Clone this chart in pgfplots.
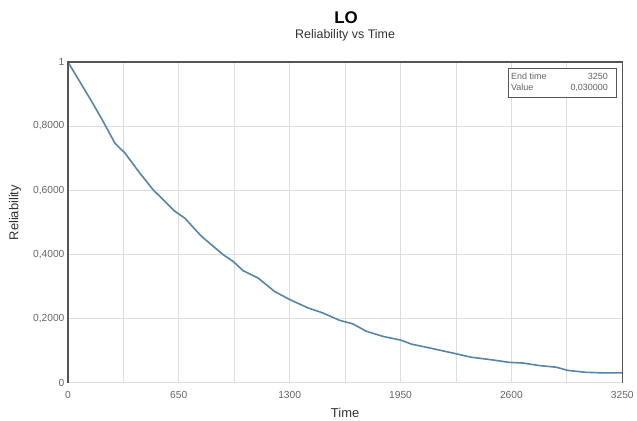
\documentclass[border=0pt]{standalone}
\usepackage{fontspec}
\setmainfont{Liberation Sans}
\usepackage{pgfplots}
\pgfplotsset{compat=1.18}
\definecolor{curve}{RGB}{84,134,168}
\definecolor{gridc}{RGB}{222,222,222}
\definecolor{tickc}{RGB}{100,100,100}
\definecolor{labc}{RGB}{50,50,50}
\definecolor{framec}{RGB}{85,85,85}
\begin{document}
\begin{tikzpicture}
\begin{axis}[
  scale only axis,
  width=555bp, height=321bp,
  xmin=0, xmax=3250, ymin=0, ymax=1,
  xtick={0,650,1300,1950,2600,3250},
  minor xtick={325,975,1625,2275,2925},
  ytick={0,0.2,0.4,0.6,0.8,1},
  yticklabels={0,{0,2000},{0,4000},{0,6000},{0,8000},1},
  xticklabel style={font=\fontsize{10.3}{12}\selectfont, text=tickc, yshift=-5bp},
  yticklabel style={font=\fontsize{10.3}{12}\selectfont, text=tickc},
  /pgf/number format/assume math mode=true,
  /pgf/number format/1000 sep={},
  xmajorgrids, xminorgrids, ymajorgrids,
  grid style={gridc, line width=0.8bp},
  minor grid style={gridc, line width=0.8bp},
  major tick length=0pt, minor tick length=0pt,
  axis line style={draw=none},
  clip=false,
]
\addplot[curve, line width=1.6bp] coordinates {
(0,1.000) (139,0.877) (207,0.814) (275,0.747) (334,0.716) (422,0.653)
(500,0.601) (627,0.534) (685,0.513) (783,0.456) (910,0.399) (968,0.378)
(1027,0.349) (1115,0.326) (1212,0.284) (1300,0.259) (1407,0.233)
(1495,0.217) (1593,0.194) (1671,0.183) (1749,0.160) (1847,0.144)
(1954,0.132) (2013,0.120) (2120,0.108) (2257,0.092) (2364,0.079)
(2471,0.072) (2588,0.063) (2666,0.061) (2764,0.053) (2862,0.048)
(2930,0.038) (3037,0.032) (3150,0.030) (3250,0.030)
};
\draw[gridc, line width=1bp] (rel axis cs:0,0) -- (rel axis cs:1,0);
\draw[framec, line width=1.2bp] (rel axis cs:0,0) -- (rel axis cs:0,1) -- (rel axis cs:1,1) -- (rel axis cs:1,0);
\node[draw=framec, line width=0.9bp, fill=white, anchor=north east, inner xsep=3bp, inner ysep=3bp,
  minimum width=106bp, minimum height=29bp,
  font=\fontsize{9}{11.5}\selectfont, text=tickc] at ([xshift=-5bp,yshift=-6bp]rel axis cs:1,1)
  {\begin{tabular}{@{}l@{\hspace{24bp}}r@{\hspace{6bp}}}End time & 3250\\ Value & 0,030000\end{tabular}};
\node[font=\bfseries\fontsize{17}{19}\selectfont] at ([xshift=1bp,yshift=44bp]rel axis cs:0.5,1) {LO};
\node[font=\fontsize{12.5}{14}\selectfont, text=labc] at ([yshift=27bp]rel axis cs:0.5,1) {Reliability vs Time};
\node[font=\fontsize{13}{15}\selectfont, text=labc, rotate=90] at ([xshift=-53bp]rel axis cs:0,0.53) {Reliability};
\node[font=\fontsize{13}{15}\selectfont, text=labc] at ([yshift=-30bp]rel axis cs:0.5,0) {Time};
\path (rel axis cs:0,0) ++(-68bp,-38bp) coordinate (bl);
\path (rel axis cs:1,1) ++(14bp,62bp) coordinate (tr);
\path (bl) rectangle (tr);
\end{axis}
\end{tikzpicture}
\end{document}
